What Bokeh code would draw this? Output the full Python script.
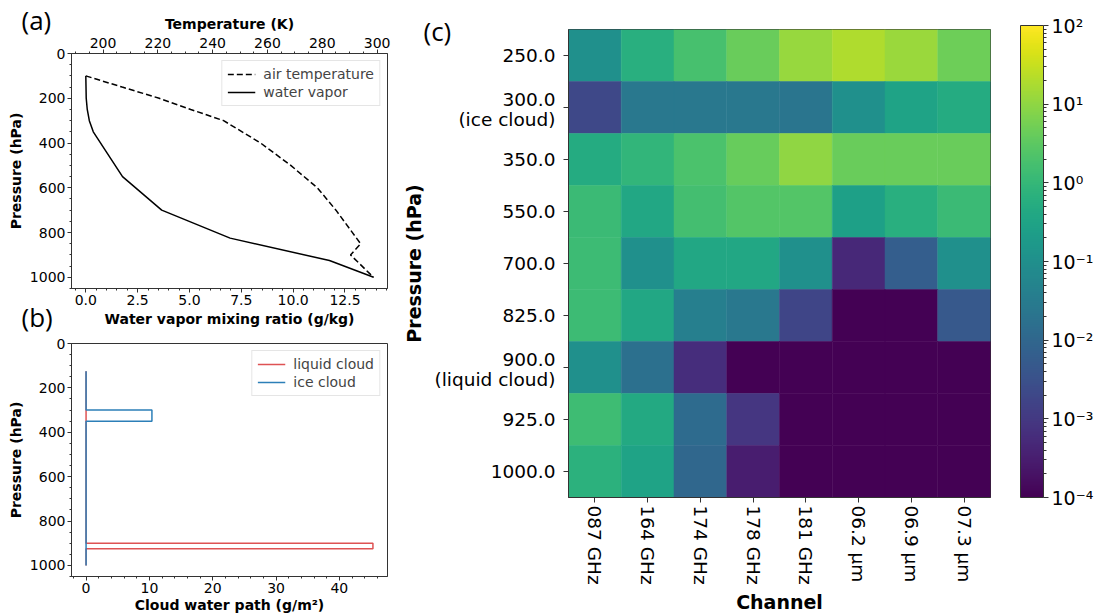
import math
from bokeh.plotting import figure
from bokeh.core.properties import value
from bokeh.models import (Range1d, LinearAxis, SingleIntervalTicker, NumeralTickFormatter,
                          ColumnDataSource, LogColorMapper, ColorBar, FixedTicker,
                          CustomJSTickFormatter, FactorRange, Legend, LegendItem, GridBox)
from bokeh.layouts import column
from bokeh.palettes import Viridis256
from bokeh.transform import log_cmap
from bokeh.embed import file_html
from bokeh.resources import INLINE

# ---------------- data: panel (a) ----------------
wv_pressure = [100, 200, 250, 300, 350, 550, 700, 825, 925, 1000]
wv_mixing_ratio = [0.0, 0.02, 0.07, 0.17, 0.36, 1.77, 3.66, 6.96, 11.75, 13.88]
t_pressure = [100, 150, 200, 250, 300, 400, 500, 600, 700, 850, 900, 1000]
t_air = [193.7, 207.0, 220.5, 232.0, 244.0, 257.5, 268.5, 278.2, 285.0, 294.0, 290.3, 298.7]

# ---------------- data: panel (b) ----------------
layer_top = [125, 300, 350, 900, 925]
layer_bottom = [300, 350, 900, 925, 1000]
liquid_cwp = [0, 0, 0, 45.3, 0]
ice_cwp = [0, 10.4, 0, 0, 0]

# ---------------- data: panel (c) ----------------
channels = ["087 GHz", "164 GHz", "174 GHz", "178 GHz", "181 GHz", "06.2 μm", "06.9 μm", "07.3 μm"]
levels = ["250.0", "300.0", "350.0", "550.0", "700.0", "825.0", "900.0", "925.0", "1000.0"]
level_notes = {"300.0": "(ice cloud)", "900.0": "(liquid cloud)"}
sens_250 = [0.1, 0.6, 1.8, 4.2, 11.7, 19.0, 12.6, 4.8]
sens_300 = [0.002, 0.025, 0.025, 0.025, 0.022, 0.1, 0.3, 0.5]
sens_350 = [0.5, 0.9, 2.0, 4.0, 10.0, 4.2, 4.3, 4.2]
sens_550 = [1.2, 0.4, 1.6, 2.5, 2.5, 0.26, 0.6, 1.2]
sens_700 = [1.3, 0.1, 0.4, 0.4, 0.1, 0.0005, 0.0063, 0.1]
sens_825 = [1.3, 0.4, 0.038, 0.025, 0.0018, 0.0001, 0.0001, 0.0048]
sens_900 = [0.1, 0.0166, 0.0006, 0.0001, 0.0001, 0.0001, 0.0001, 0.0001]
sens_925 = [1.4, 0.45, 0.0126, 0.0009, 0.0001, 0.0001, 0.0001, 0.0001]
sens_1000 = [0.7, 0.3, 0.01, 0.0003, 0.0001, 0.0001, 0.0001, 0.0001]
sens_rows = [sens_250, sens_300, sens_350, sens_550, sens_700, sens_825, sens_900, sens_925, sens_1000]
cbar_decades = [-4, -3, -2, -1, 0, 1, 2]

panel_tags = ["(a)", "(b)", "(c)"]

FONT = "DejaVu Sans"
AXC = "#333333"
W, H = 1097, 615


def style_axis(ax, size="14px", label_size="14px"):
    ax.major_label_text_font = FONT
    ax.major_label_text_font_size = size
    ax.major_label_text_color = "black"
    ax.axis_label_text_font = FONT
    ax.axis_label_text_font_size = label_size
    ax.axis_label_text_font_style = "bold"
    ax.axis_label_text_color = "black"
    ax.axis_line_color = AXC
    ax.major_tick_line_color = AXC
    ax.minor_tick_line_color = AXC
    ax.major_tick_in = 0
    ax.major_tick_out = 4
    ax.minor_tick_in = 0
    ax.minor_tick_out = 2
    ax.major_label_standoff = 2
    ax.axis_label_standoff = 3


def style_legend(lg):
    lg.label_text_font = FONT
    lg.label_text_font_size = "14px"
    lg.glyph_width = 28
    lg.glyph_height = 16
    lg.label_height = 16
    lg.label_standoff = 8
    lg.spacing = 2
    lg.padding = 5
    lg.margin = 7
    lg.border_line_color = "#cccccc"
    lg.background_fill_alpha = 0.8
    lg.location = "top_right"


def step_path(tops, bottoms, vals):
    xs, ys = [], []
    for t, b, v in zip(tops, bottoms, vals):
        xs += [v, v]
        ys += [t, b]
    return xs, ys


# ---------------- panel (a) ----------------
pa = figure(width=400, height=335, output_backend="svg", toolbar_location=None,
            x_range=Range1d(-0.69, 14.55), y_range=Range1d(1050, 0),
            min_border_left=71, min_border_right=12, min_border_top=53, min_border_bottom=47)
pa.extra_x_ranges = {"temp": Range1d(188.5, 303.8)}
pa.grid.visible = False
pa.outline_line_color = AXC
bottom_ax = pa.below[0]
left_ax = pa.left[0]
bottom_ax.ticker = SingleIntervalTicker(interval=2.5, num_minor_ticks=5)
bottom_ax.formatter = NumeralTickFormatter(format="0.0")
bottom_ax.axis_label = "Water vapor mixing ratio (g/kg)"
left_ax.ticker = SingleIntervalTicker(interval=200, num_minor_ticks=4)
left_ax.axis_label = "Pressure (hPa)"
top_ax = LinearAxis(x_range_name="temp", axis_label="Temperature (K)",
                    ticker=SingleIntervalTicker(interval=20, num_minor_ticks=4))
pa.add_layout(top_ax, "above")
for ax in [bottom_ax, left_ax, top_ax]:
    style_axis(ax)

r_t = pa.line(t_air, t_pressure, x_range_name="temp", line_color="black",
              line_width=1.5, line_dash="6 3")
r_q = pa.line(wv_mixing_ratio, wv_pressure, line_color="black", line_width=1.5)
lga = Legend(items=[LegendItem(label="air temperature", renderers=[r_t]),
                    LegendItem(label="water vapor", renderers=[r_q])])
style_legend(lga)
pa.add_layout(lga, "center")

# ---------------- panel (b) ----------------
pb = figure(width=400, height=280, output_backend="svg", toolbar_location=None,
            x_range=Range1d(-2.3, 47.6), y_range=Range1d(1050, 0),
            min_border_left=71, min_border_right=13, min_border_top=8, min_border_bottom=38)
pb.grid.visible = False
pb.outline_line_color = AXC
pb.xaxis.ticker = SingleIntervalTicker(interval=10, num_minor_ticks=5)
pb.xaxis.axis_label = "Cloud water path (g/m²)"
pb.yaxis.ticker = SingleIntervalTicker(interval=200, num_minor_ticks=4)
pb.yaxis.axis_label = "Pressure (hPa)"
for ax in [pb.below[0], pb.left[0]]:
    style_axis(ax)
pb.below[0].axis_label_standoff = 1

lx, ly = step_path(layer_top, layer_bottom, liquid_cwp)
ix, iy = step_path(layer_top, layer_bottom, ice_cwp)
r_l = pb.line(lx, ly, line_color="#de5253", line_width=1.5)
r_i = pb.line(ix, iy, line_color="#2c7fb8", line_width=1.5)
lgb = Legend(items=[LegendItem(label="liquid cloud", renderers=[r_l]),
                    LegendItem(label="ice cloud", renderers=[r_i])])
style_legend(lgb)
pb.add_layout(lgb, "center")

# ---------------- panel (c) ----------------
n_lev = len(levels)
row_center = {lev: n_lev - i - 0.5 for i, lev in enumerate(levels)}
xs, ys, vs = [], [], []
for lev, vals in zip(levels, sens_rows):
    for ch, v in zip(channels, vals):
        xs.append(ch)
        ys.append(row_center[lev])
        vs.append(v)
src = ColumnDataSource(dict(x=xs, y=ys, v=vs))

pc = figure(width=697, height=615, output_backend="svg", toolbar_location=None,
            x_range=FactorRange(factors=channels), y_range=Range1d(0, n_lev),
            min_border_left=167, min_border_right=107, min_border_top=29, min_border_bottom=114)
pc.grid.visible = False
pc.outline_line_color = AXC
cmap = log_cmap("v", Viridis256, 1e-4, 1e2)
pc.rect(x="x", y="y", width=1, height=1, source=src, fill_color=cmap, line_color=cmap,
        line_width=0.5)
pc.xaxis.axis_label = "Channel"
pc.yaxis.axis_label = "Pressure (hPa)"
for ax in [pc.below[0], pc.left[0]]:
    style_axis(ax, size="18.5px", label_size="19px")
    ax.major_tick_out = 5
pc.xaxis.major_label_orientation = -math.pi / 2
pc.xaxis.major_label_standoff = 3

tick_pos, tick_txt = [], []
for lev in levels:
    c = row_center[lev]
    if lev in level_notes:
        tick_pos += [c + 0.145, c - 0.23]
        tick_txt += [lev, level_notes[lev]]
    else:
        tick_pos.append(c)
        tick_txt.append(lev)
yax = pc.left[0]
yax.ticker = FixedTicker(ticks=tick_pos, minor_ticks=list(row_center.values()))
yax.formatter = CustomJSTickFormatter(args=dict(pos=tick_pos, txt=tick_txt), code="""
for (let i = 0; i < pos.length; i++) {
  if (Math.abs(pos[i] - tick) < 1e-6) return txt[i];
}
return '';
""")
yax.major_tick_line_color = None
yax.minor_tick_out = 5
yax.minor_tick_in = 0
yax.major_label_standoff = 8
yax.axis_label_standoff = 6

mapper = LogColorMapper(palette=Viridis256, low=1e-4, high=1e2)
minor = [k * 10.0 ** e for e in cbar_decades[:-1] for k in range(2, 10)]
cb = ColorBar(color_mapper=mapper, width=23, height=472, location=(30, 0),
              ticker=FixedTicker(ticks=[10.0 ** e for e in cbar_decades], minor_ticks=minor),
              formatter=CustomJSTickFormatter(code="""
const e = Math.round(Math.log10(tick));
const sup = {'-':'\u207b','0':'\u2070','1':'\u00b9','2':'\u00b2','3':'\u00b3','4':'\u2074','5':'\u2075','6':'\u2076','7':'\u2077','8':'\u2078','9':'\u2079'};
return '10' + String(e).split('').map(c => sup[c]).join('');
"""),
              major_label_text_font=FONT, major_label_text_font_size="19px",
              major_label_text_color="black",
              major_tick_in=0, major_tick_out=5, minor_tick_in=0, minor_tick_out=3,
              major_tick_line_color=AXC, minor_tick_line_color=AXC,
              bar_line_color=AXC, padding=0, margin=0, label_standoff=3,
              background_fill_alpha=0)
pc.add_layout(cb, "right")

# ---------------- transparent overlay carrying the panel tags ----------------
ov = figure(frame_width=W, frame_height=H, output_backend="svg", toolbar_location=None,
            title=None, x_range=Range1d(0, W), y_range=Range1d(H, 0),
            x_axis_type=None, y_axis_type=None,
            min_border_left=0, min_border_right=0, min_border_top=0, min_border_bottom=0,
            background_fill_alpha=0, border_fill_alpha=0, outline_line_color=None,
            margin=(-40, 0, 0, 0))
ov.grid.visible = False
tag_src = ColumnDataSource(dict(x=[21, 21, 423], y=[30, 327, 41], t=panel_tags))
ov.text(x="x", y="y", text="t", source=tag_src, text_font=value("Open Sans"),
        text_font_size="26px", text_color="black", text_baseline="alphabetic")

left_col = column(pa, pb)
grid = GridBox(children=[(left_col, 0, 0), (pc, 0, 1), (ov, 0, 0, 1, 2)])
open("out.html", "w").write(file_html(grid, INLINE))
